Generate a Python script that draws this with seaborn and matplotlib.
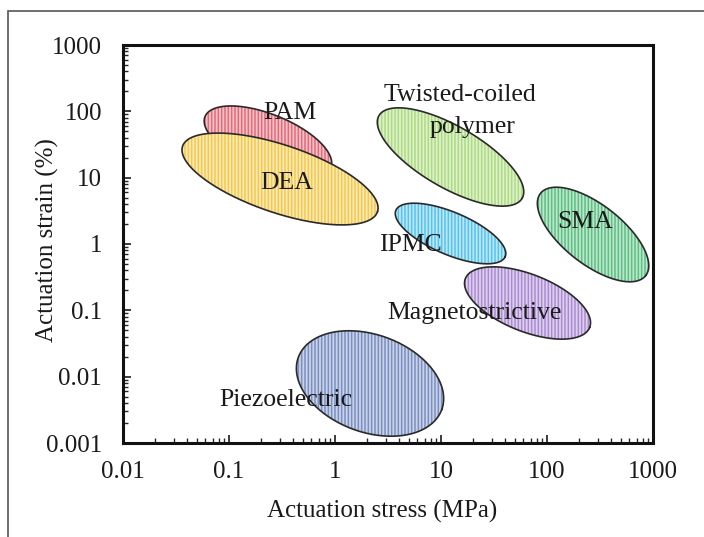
import numpy as np
import pandas as pd
import matplotlib
matplotlib.use("Agg")
import matplotlib.pyplot as plt
import matplotlib.colors as mcolors
from matplotlib.patches import Rectangle
import seaborn as sns

# ---------------- data ----------------
actuators = ["PAM", "DEA", "Twisted-coiled polymer", "SMA", "IPMC",
             "Magnetostrictive", "Piezoelectric"]
center_stress_mpa = [0.233, 0.303, 12.3, 272.0, 12.3, 65.5, 2.14]
center_strain_pct = [34.5, 9.55, 20.5, 1.39, 1.44, 0.129, 0.00789]
major_span_dec = [0.64, 0.97, 0.78, 0.63, 0.56, 0.63, 0.72]   # semi-axis, decades of stress
minor_span_dec = [0.26, 0.32, 0.29, 0.28, 0.20, 0.27, 0.46]
tilt_deg = [-22, -18.6, -30, -38, -23, -21.5, -20]
colors = ["#e46a78", "#f4c94a", "#addb80", "#5cc083", "#55c3ec", "#ab8ad3", "#7a8fc2"]

label_texts = ["PAM", "DEA", "Twisted-coiled", "polymer", "IPMC", "SMA",
               "Magnetostrictive", "Piezoelectric"]
label_stress = [0.376, 0.352, 15.1, 20.0, 5.2, 228.0, 20.9, 0.345]
label_strain = [94.4, 8.3, 176.0, 58.0, 0.966, 2.15, 0.091, 0.00445]

x_ticks = [0.01, 0.1, 1, 10, 100, 1000]
x_ticklabels = ["0.01", "0.1", "1", "10", "100", "1000"]
y_ticks = [0.001, 0.01, 0.1, 1, 10, 100, 1000]
y_ticklabels = ["0.001", "0.01", "0.1", "1", "10", "100", "1000"]

# ---------------- style ----------------
sns.set_style("ticks")
plt.rcParams["font.family"] = ["Liberation Serif", "DejaVu Serif"]
plt.rcParams["hatch.linewidth"] = 1.1

fig = plt.figure(figsize=(7.04, 5.37), dpi=100)
ax = fig.add_axes([123 / 704, 1 - 443 / 537, 530 / 704, 398 / 537])
ax.set_xscale("log")
ax.set_yscale("log")
ax.set_xlim(x_ticks[0], x_ticks[-1])
ax.set_ylim(y_ticks[0], y_ticks[-1])

# ratio of on-screen size of one y-decade to one x-decade
bb = ax.get_position()
fw, fh = fig.get_size_inches()
px_x = bb.width * fw / (np.log10(x_ticks[-1]) - np.log10(x_ticks[0]))
px_y = bb.height * fh / (np.log10(y_ticks[-1]) - np.log10(y_ticks[0]))
ry = px_y / px_x

t = np.linspace(0, 2 * np.pi, 240)
for i, name in enumerate(actuators):
    th = np.deg2rad(tilt_deg[i])
    a, b = major_span_dec[i], minor_span_dec[i]
    dx = a * np.cos(t) * np.cos(th) - b * np.sin(t) * np.sin(th)
    dy = (a * np.cos(t) * np.sin(th) + b * np.sin(t) * np.cos(th)) / ry
    xs = 10 ** (np.log10(center_stress_mpa[i]) + dx)
    ys = 10 ** (np.log10(center_strain_pct[i]) + dy)
    base = np.array(mcolors.to_rgb(colors[i]))
    light = base * 0.4 + 0.6
    z = 2 + i
    ax.fill(xs, ys, facecolor=light, edgecolor=base, hatch="|||||",
            linewidth=0, zorder=z)
    df = pd.DataFrame({"x": xs, "y": ys})
    sns.lineplot(data=df, x="x", y="y", sort=False, estimator=None,
                 color="#2a2a2a", linewidth=1.2, ax=ax, zorder=z + 0.5)

for txt, sx, sy in zip(label_texts, label_stress, label_strain):
    ax.text(sx, sy, txt, ha="center", va="center", fontsize=18.5,
            color="#1a1a1a", zorder=20)

ax.set_xticks(x_ticks)
ax.set_xticklabels(x_ticklabels)
ax.set_yticks(y_ticks)
ax.set_yticklabels(y_ticklabels)
ax.xaxis.set_minor_locator(matplotlib.ticker.LogLocator(base=10, subs=np.arange(2, 10)))
ax.yaxis.set_minor_locator(matplotlib.ticker.LogLocator(base=10, subs=np.arange(2, 10)))
ax.xaxis.set_minor_formatter(matplotlib.ticker.NullFormatter())
ax.yaxis.set_minor_formatter(matplotlib.ticker.NullFormatter())
ax.tick_params(axis="both", which="major", direction="in", length=6, width=1.2,
               labelsize=18, colors="#1a1a1a")
ax.tick_params(axis="x", which="major", pad=13)
ax.tick_params(axis="y", which="major", pad=15)
ax.tick_params(axis="both", which="minor", direction="in", length=3.5, width=1.0)
ax.tick_params(top=False, right=False, which="both")
for s in ax.spines.values():
    s.set_linewidth(2.2)
    s.set_color("#111111")
    s.set_visible(True)

ax.set_xlabel("Actuation stress (MPa)", fontsize=18, color="#1a1a1a")
ax.set_ylabel("Actuation strain (%)", fontsize=18, color="#1a1a1a")
ax.xaxis.set_label_coords(0.489, -0.172)
ax.yaxis.set_label_coords(-0.142, 0.51)
ax.xaxis.label.set_va("center")
ax.yaxis.label.set_va("center")

# outer frame of the picture (cropped at right/bottom)
fig.patches.append(Rectangle((8 / 704, -0.1), 1.2, 1 - 11 / 537 + 0.1,
                             transform=fig.transFigure, fill=False,
                             edgecolor="#555555", linewidth=1.2))

fig.savefig("out.png", dpi=100)
